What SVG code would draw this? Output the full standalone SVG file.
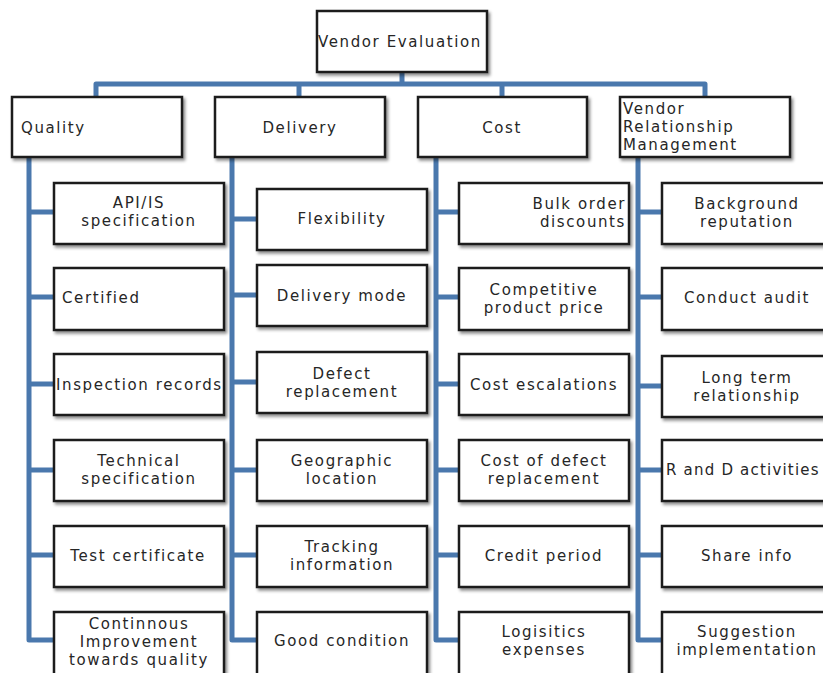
<svg xmlns="http://www.w3.org/2000/svg" width="823" height="673" viewBox="0 0 823 673">
<defs>
<filter id="sh" x="-10%" y="-10%" width="130%" height="140%">
<feDropShadow dx="2" dy="2.5" stdDeviation="1.8" flood-color="#000" flood-opacity="0.45"/>
</filter>
<style>
.b{fill:#fff;stroke:#1c1c1c;stroke-width:2.5;filter:url(#sh)}
.t{font-family:"DejaVu Sans",Verdana,sans-serif;font-size:15px;fill:#262626;letter-spacing:1.6px}
.c{text-anchor:middle}
.k{fill:none;stroke:#4a78ad;stroke-width:5;stroke-linejoin:round}
</style>
</defs>
<rect width="823" height="673" fill="#fff"/>
<g id="connectors">
<path class="k" d="M402,72V84M96,97V84H705V97M299,84V97M502,84V97"/>
<path class="k" d="M29,157V640H54M29,212H54M29,297H54M29,384H54M29,470H54M29,555H54"/>
<path class="k" d="M232,157V640H257M232,219H257M232,295H257M232,382H257M232,470H257M232,555H257"/>
<path class="k" d="M436,157V640H459M436,212H459M436,297H459M436,384H459M436,470H459M436,555H459"/>
<path class="k" d="M638,157V640H662M638,212H662M638,297H662M638,386H662M638,470H662M638,555H662"/>
</g>
<g id="root"><rect class="b" x="317" y="11" width="170" height="61"/><text class="t" x="318" y="46.5">Vendor Evaluation</text></g>
<g id="quality"><rect class="b" x="12" y="97" width="170" height="60"/><text class="t" x="21" y="132.5">Quality</text></g>
<g id="delivery"><rect class="b" x="215" y="97" width="170" height="60"/><text class="t c" x="300" y="132.5">Delivery</text></g>
<g id="cost"><rect class="b" x="418" y="97" width="169" height="60"/><text class="t c" x="502" y="132.5">Cost</text></g>
<g id="vrm"><rect class="b" x="620" y="97" width="170" height="60"/><text class="t" x="623" y="114">Vendor<tspan x="623" y="132">Relationship</tspan><tspan x="623" y="150">Management</tspan></text></g>

<g id="q1"><rect class="b" x="54" y="183" width="170" height="61"/><text class="t c" x="139" y="208">API/IS<tspan x="139" y="226">specification</tspan></text></g>
<g id="q2"><rect class="b" x="54" y="268" width="170" height="62"/><text class="t" x="62" y="302.5">Certified</text></g>
<g id="q3"><rect class="b" x="54" y="354" width="170" height="61"/><text class="t" x="56" y="389.5">Inspection records</text></g>
<g id="q4"><rect class="b" x="54" y="440" width="170" height="61"/><text class="t c" x="139" y="466">Technical<tspan x="139" y="484">specification</tspan></text></g>
<g id="q5"><rect class="b" x="54" y="526" width="170" height="61"/><text class="t c" x="138" y="560.5">Test certificate</text></g>
<g id="q6"><rect class="b" x="54" y="612" width="170" height="66"/><text class="t c" x="139" y="628.5">Continnous<tspan x="139" y="646.5">Improvement</tspan><tspan x="139" y="664.5">towards quality</tspan></text></g>

<g id="d1"><rect class="b" x="257" y="189" width="170" height="61"/><text class="t c" x="342" y="223.5">Flexibility</text></g>
<g id="d2"><rect class="b" x="257" y="265" width="170" height="61"/><text class="t c" x="342" y="300.5">Delivery mode</text></g>
<g id="d3"><rect class="b" x="257" y="352" width="170" height="61"/><text class="t c" x="342" y="379">Defect<tspan x="342" y="397">replacement</tspan></text></g>
<g id="d4"><rect class="b" x="257" y="440" width="170" height="61"/><text class="t c" x="342" y="466">Geographic<tspan x="342" y="484">location</tspan></text></g>
<g id="d5"><rect class="b" x="257" y="526" width="170" height="61"/><text class="t c" x="342" y="552">Tracking<tspan x="342" y="570">information</tspan></text></g>
<g id="d6"><rect class="b" x="257" y="612" width="170" height="66"/><text class="t c" x="342" y="645.5">Good condition</text></g>

<g id="c1"><rect class="b" x="459" y="183" width="170" height="61"/><text class="t" x="626" y="208.5" text-anchor="end">Bulk order<tspan x="626" y="226.5">discounts</tspan></text></g>
<g id="c2"><rect class="b" x="459" y="268" width="170" height="62"/><text class="t c" x="544" y="295">Competitive<tspan x="544" y="313">product price</tspan></text></g>
<g id="c3"><rect class="b" x="459" y="354" width="170" height="61"/><text class="t c" x="544" y="389.5">Cost escalations</text></g>
<g id="c4"><rect class="b" x="459" y="440" width="170" height="61"/><text class="t c" x="544" y="466">Cost of defect<tspan x="544" y="484">replacement</tspan></text></g>
<g id="c5"><rect class="b" x="459" y="526" width="170" height="61"/><text class="t c" x="544" y="560.5">Credit period</text></g>
<g id="c6"><rect class="b" x="459" y="612" width="170" height="66"/><text class="t c" x="544" y="637">Logisitics<tspan x="544" y="655">expenses</tspan></text></g>

<g id="v1"><rect class="b" x="662" y="183" width="170" height="61"/><text class="t c" x="747" y="208.5">Background<tspan x="747" y="226.5">reputation</tspan></text></g>
<g id="v2"><rect class="b" x="662" y="268" width="170" height="62"/><text class="t c" x="747" y="302.5">Conduct audit</text></g>
<g id="v3"><rect class="b" x="662" y="356" width="170" height="61"/><text class="t c" x="747" y="383">Long term<tspan x="747" y="401">relationship</tspan></text></g>
<g id="v4"><rect class="b" x="662" y="440" width="170" height="61"/><text class="t" x="666" y="474.5" style="letter-spacing:1.2px">R and D activities</text></g>
<g id="v5"><rect class="b" x="662" y="526" width="170" height="61"/><text class="t c" x="747" y="560.5">Share info</text></g>
<g id="v6"><rect class="b" x="662" y="612" width="170" height="66"/><text class="t c" x="747" y="637">Suggestion<tspan x="747" y="655">implementation</tspan></text></g>
</svg>
